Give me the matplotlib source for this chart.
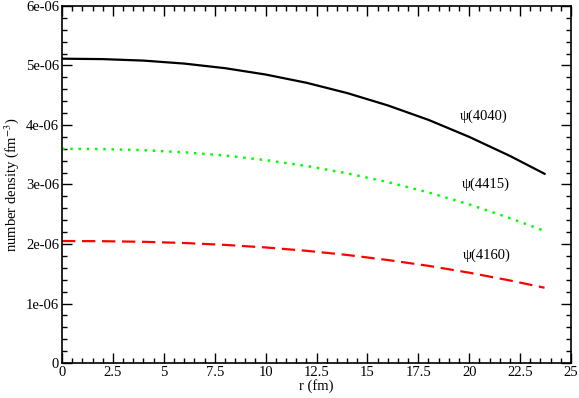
import matplotlib
matplotlib.use('Agg')
import matplotlib.pyplot as plt
from matplotlib.ticker import MultipleLocator, FuncFormatter

plt.rcParams['font.family'] = ['Liberation Serif', 'DejaVu Serif']
plt.rcParams['mathtext.fontset'] = 'stix'

# values (r in fm, density in fm^-3)
r = [0, 2, 4, 6, 8, 10, 12, 14, 16, 18, 20, 22, 23.7]
psi4040 = [5.114e-06, 5.107e-06, 5.082e-06, 5.032e-06, 4.955e-06, 4.848e-06, 4.71e-06,
           4.537e-06, 4.329e-06, 4.086e-06, 3.80e-06, 3.48e-06, 3.18e-06]
psi4415 = [3.60e-06, 3.595e-06, 3.577e-06, 3.541e-06, 3.487e-06, 3.41e-06, 3.312e-06,
           3.188e-06, 3.04e-06, 2.867e-06, 2.665e-06, 2.435e-06, 2.22e-06]
psi4160 = [2.05e-06, 2.047e-06, 2.037e-06, 2.017e-06, 1.985e-06, 1.942e-06, 1.886e-06,
           1.816e-06, 1.731e-06, 1.633e-06, 1.518e-06, 1.387e-06, 1.265e-06]

labels = ['ψ(4040)', 'ψ(4415)', 'ψ(4160)']
label_pos = [(20.7, 4.15e-06), (20.8, 3.0e-06), (20.85, 1.815e-06)]

fig = plt.figure(figsize=(5.79, 3.98), dpi=100)
ax = fig.add_axes([0.1071, 0.0879, 0.8791, 0.8971])

ax.plot(r, psi4040, color='black', lw=1.6)
ax.plot(r, psi4415, color='#00ff00', lw=1.8, linestyle=(0, (1, 2.3)))
ax.plot(r, psi4160, color='#ff0000', lw=1.6, linestyle=(0, (6, 3)))

for txt, (x, y) in zip(labels, label_pos):
    ax.text(x, y, txt, ha='center', va='center', fontsize=10.5)

ax.set_xlim(0, 25)
ax.set_ylim(0, 6e-06)
ax.xaxis.set_major_locator(MultipleLocator(2.5))
ax.xaxis.set_minor_locator(MultipleLocator(0.5))
ax.yaxis.set_major_locator(MultipleLocator(1e-06))
ax.yaxis.set_minor_locator(MultipleLocator(2e-07))
ax.xaxis.set_major_formatter(FuncFormatter(lambda v, p: '%g' % v))
ax.yaxis.set_major_formatter(FuncFormatter(lambda v, p: '%g' % v))
ax.yaxis.get_offset_text().set_visible(False)

ax.tick_params(which='both', direction='in', top=True, right=True, labelsize=10.5, width=1)
ax.tick_params(which='major', length=7, pad=2)
ax.tick_params(which='minor', length=3.5)
for s in ax.spines.values():
    s.set_linewidth(1.2)

ax.set_xlabel('r (fm)', fontsize=10.5, labelpad=0)
ax.set_ylabel(r'number density (fm$^{-3}$)', fontsize=10.5, labelpad=4)

fig.savefig('out.png', dpi=100)
